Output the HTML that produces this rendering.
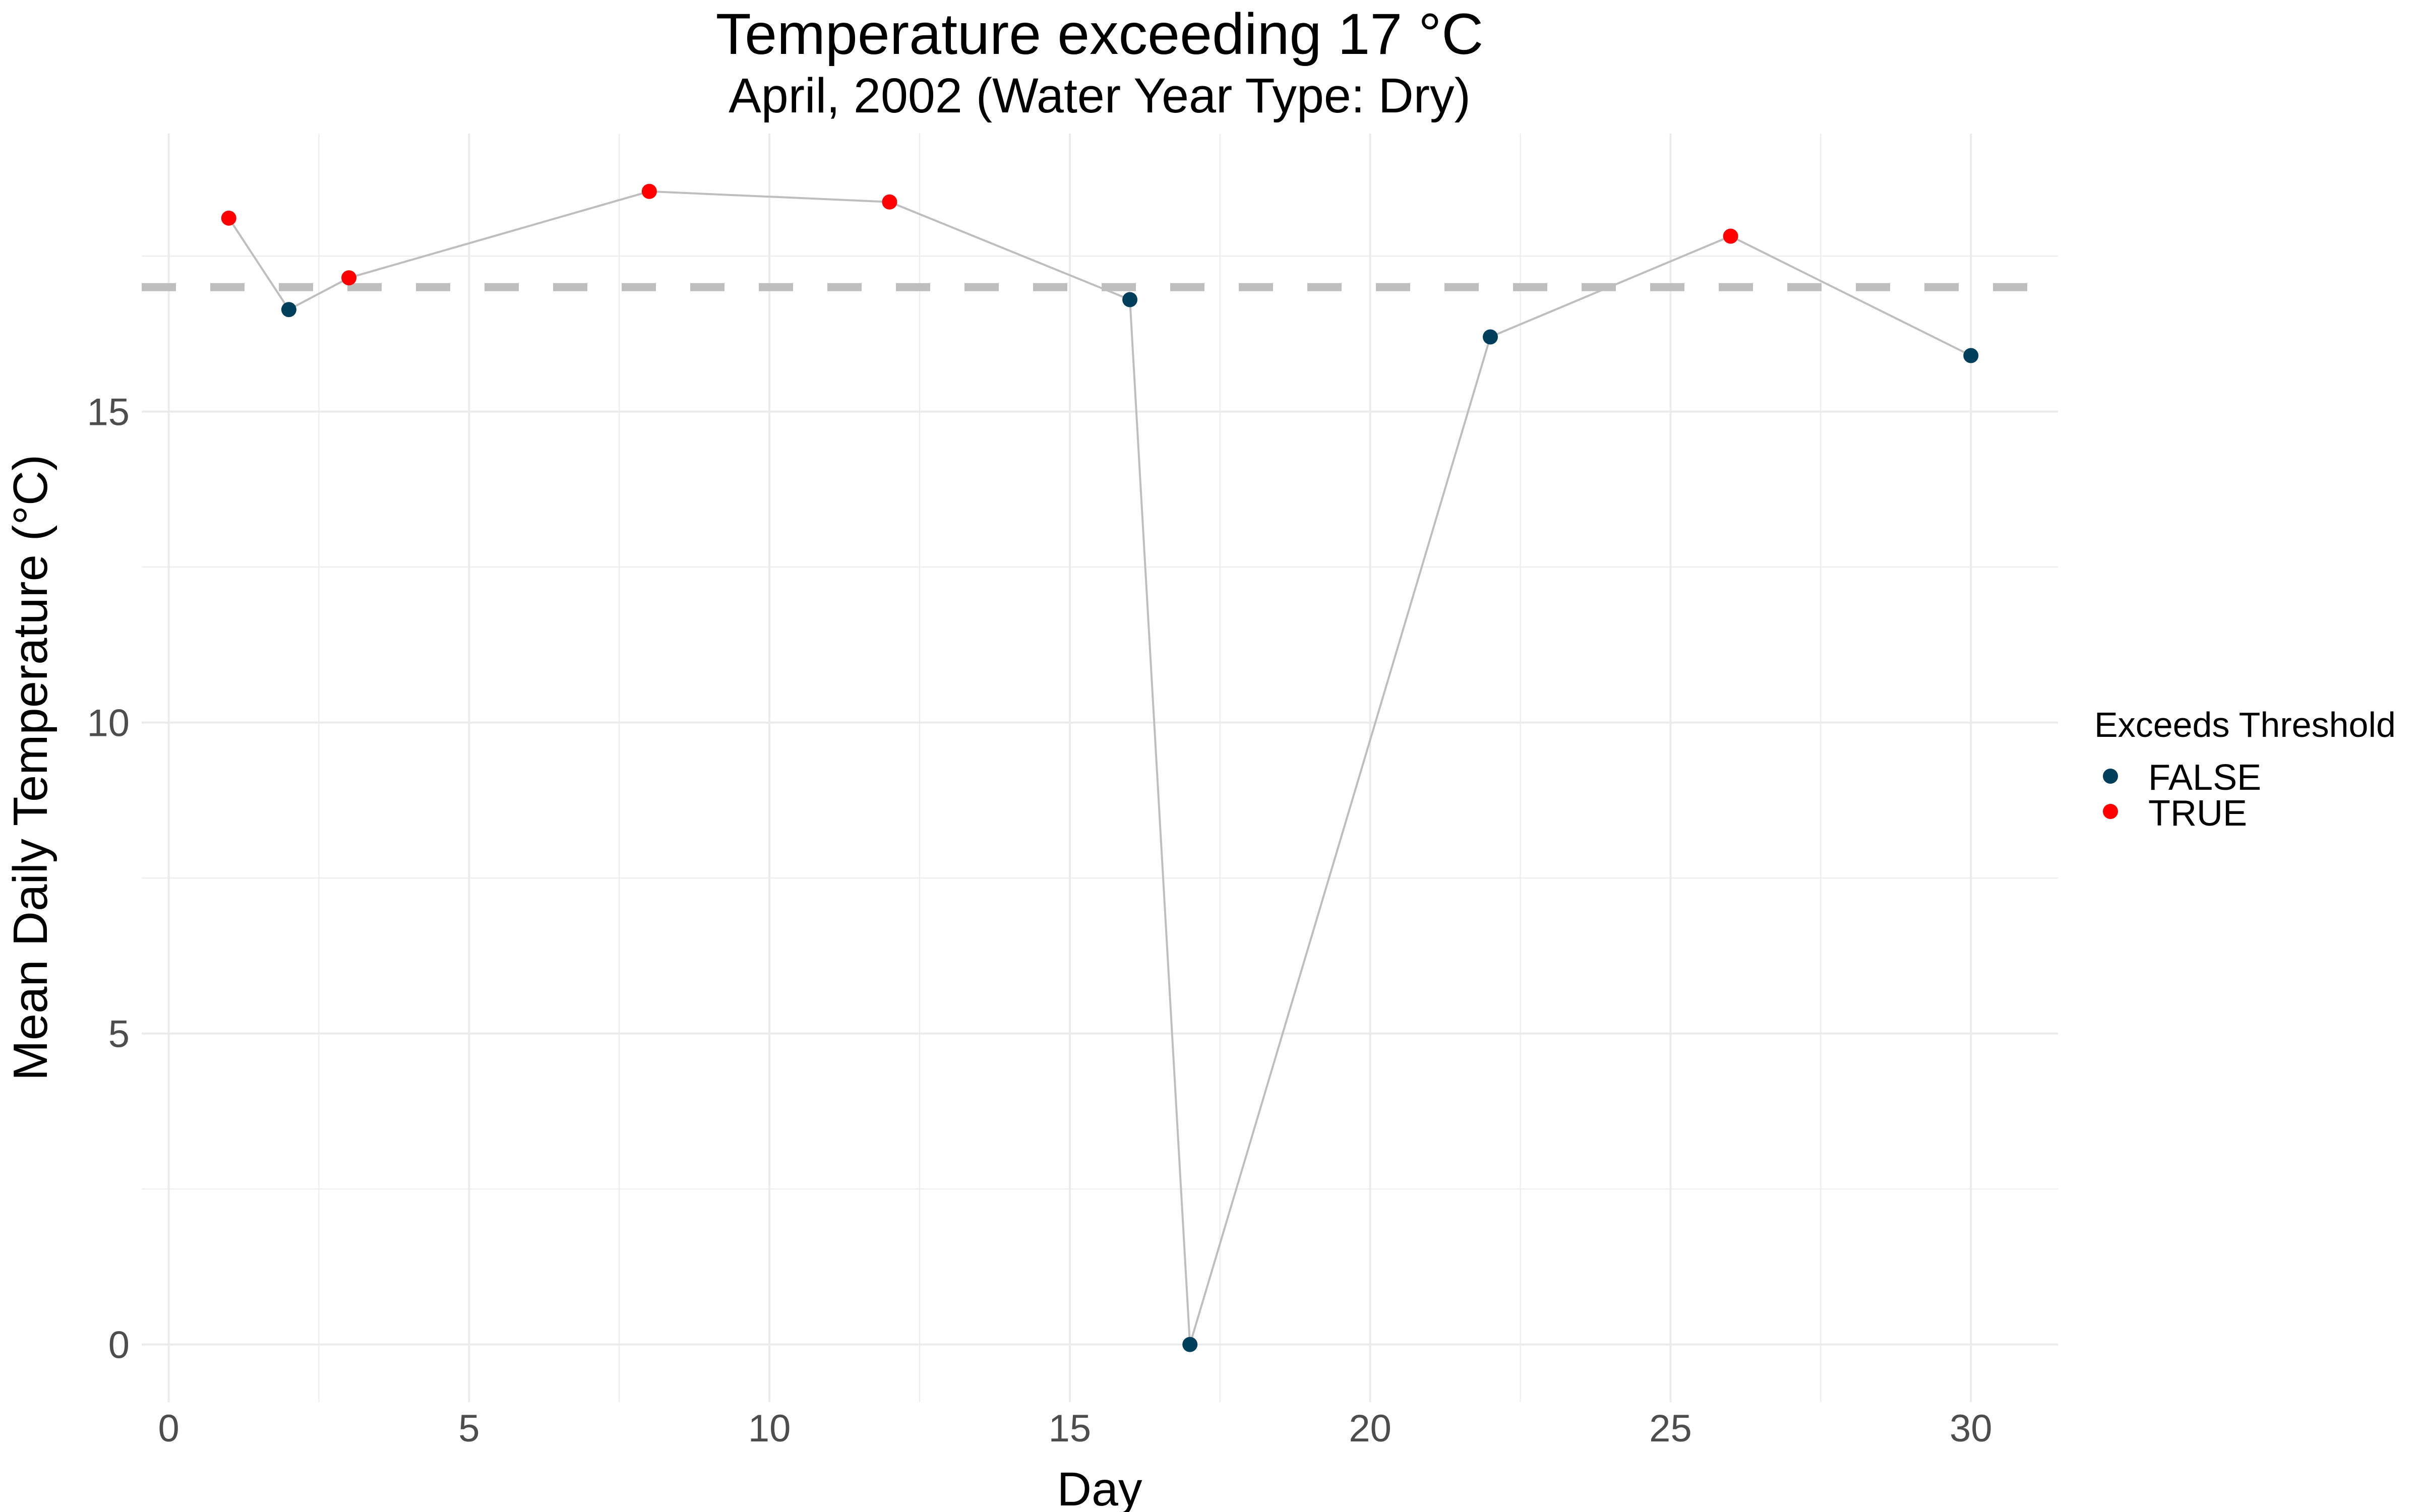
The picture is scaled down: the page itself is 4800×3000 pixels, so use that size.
<!DOCTYPE html>
<html><head><meta charset="utf-8"><style>
html,body{margin:0;padding:0;background:#fff;}
svg{display:block;font-family:"Liberation Sans",Arial,sans-serif;}
</style></head><body>
<svg id="chart" width="4800" height="3000" viewBox="0 0 4800 3000" xmlns="http://www.w3.org/2000/svg">
<rect width="4800" height="3000" fill="#fff"/>
<g id="grid"></g>
<g id="axes"></g>
<g id="marks"></g>
<text x="2181" y="107" font-size="115" text-anchor="middle" fill="#000">Temperature exceeding 17 °C</text>
<text x="2181" y="223" font-size="97" text-anchor="middle" fill="#000">April, 2002 (Water Year Type: Dry)</text>
<text x="2181" y="2987" font-size="95" text-anchor="middle" fill="#000">Day</text>
<text transform="translate(93,1523) rotate(-90)" font-size="96" text-anchor="middle" fill="#000">Mean Daily Temperature (°C)</text>
<g>
<text x="4154" y="1462" font-size="70" fill="#000">Exceeds Threshold</text>
<g>
<circle cx="4186" cy="1540" r="15" fill="#003f5c"/>
<text x="4261" y="1567" font-size="72" fill="#000">FALSE</text>
</g>
<g>
<circle cx="4186" cy="1610" r="15" fill="#ff0000"/>
<text x="4261" y="1638" font-size="72" fill="#000">TRUE</text>
</g>
</g>
</svg>
<script>
const days = [1, 2, 3, 8, 12, 16, 17, 22, 26, 30];
const temps = [18.11, 16.64, 17.15, 18.54, 18.37, 16.80, 0.0, 16.20, 17.82, 15.90];
const threshold = 17;
const xTicks = [0, 5, 10, 15, 20, 25, 30];
const xMinor = [2.5, 7.5, 12.5, 17.5, 22.5, 27.5];
const yTicks = [0, 5, 10, 15];
const yMinor = [2.5, 7.5, 12.5, 17.5];

const NS = "http://www.w3.org/2000/svg";
const PX0 = 281, PX1 = 4082, PY0 = 265, PY1 = 2782;
const xMin = -0.45, xMax = 31.45;
const yMin = -0.927, yMax = 19.47;
function X(v){ return PX0 + (v - xMin) / (xMax - xMin) * (PX1 - PX0); }
function Y(v){ return PY1 - (v - yMin) / (yMax - yMin) * (PY1 - PY0); }
function mk(tag, attrs, parent){
  const e = document.createElementNS(NS, tag);
  for (const k in attrs) e.setAttribute(k, attrs[k]);
  parent.appendChild(e);
  return e;
}
const grid = document.getElementById('grid');
const axes = document.getElementById('axes');
const marks = document.getElementById('marks');

yMinor.forEach(v => {
  const l = mk('line', {x1: PX0, x2: PX1, y1: Y(v), y2: Y(v), stroke: '#ebebeb', 'stroke-width': 2}, grid);
  
  
});
xMinor.forEach(v => {
  const l = mk('line', {x1: X(v), x2: X(v), y1: PY0, y2: PY1, stroke: '#ebebeb', 'stroke-width': 2}, grid);
  
  
});
yTicks.forEach(v => {
  const l = mk('line', {x1: PX0, x2: PX1, y1: Y(v), y2: Y(v), stroke: '#ebebeb', 'stroke-width': 4}, grid);
  
  
  const t = mk('text', {x: 257, y: Y(v) + 27, 'font-size': 76, 'text-anchor': 'end', fill: '#4d4d4d'}, axes);
  t.textContent = v;
  
  
});
xTicks.forEach(v => {
  const l = mk('line', {x1: X(v), x2: X(v), y1: PY0, y2: PY1, stroke: '#ebebeb', 'stroke-width': 4}, grid);
  
  
  const t = mk('text', {x: X(v), y: 2860, 'font-size': 76, 'text-anchor': 'middle', fill: '#4d4d4d'}, axes);
  t.textContent = v;
  
  
});

const th = mk('line', {x1: PX0, x2: PX1, y1: Y(threshold), y2: Y(threshold), stroke: '#bebebe', 'stroke-width': 16, 'stroke-dasharray': '68 68'}, marks);



const pts = days.map((d, i) => X(d).toFixed(1) + ',' + Y(temps[i]).toFixed(1)).join(' ');
const pl = mk('polyline', {points: pts, fill: 'none', stroke: '#bebebe', 'stroke-width': 4}, marks);



days.forEach((d, i) => {
  const exceeds = temps[i] > threshold;
  const c = mk('circle', {cx: X(d), cy: Y(temps[i]), r: 15, fill: exceeds ? '#ff0000' : '#003f5c'}, marks);
  
  
});
</script>
</body></html>
